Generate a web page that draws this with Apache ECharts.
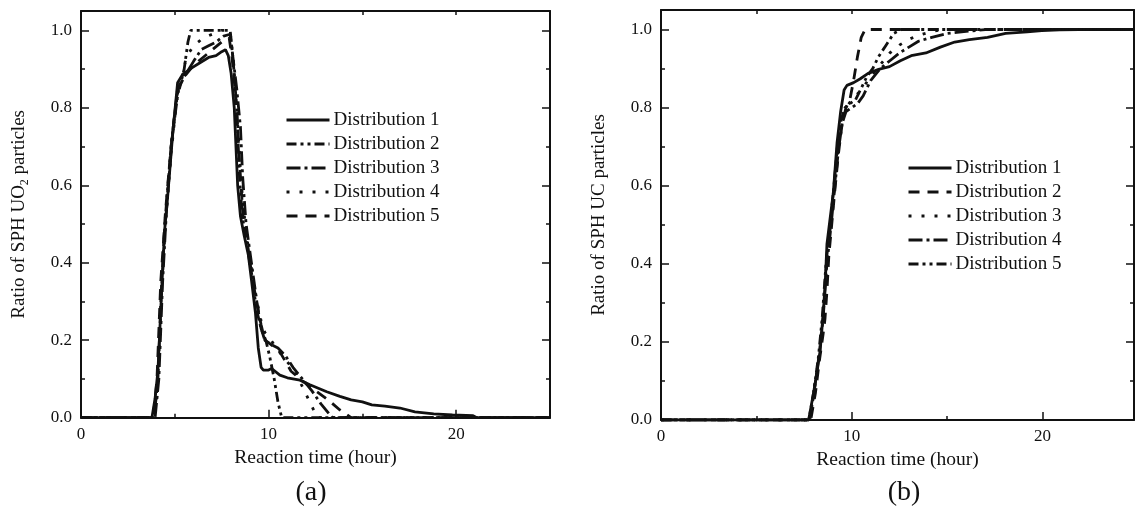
<!DOCTYPE html>
<html>
<head>
<meta charset="utf-8">
<script src="https://cdn.jsdelivr.net/npm/echarts@6/dist/echarts.min.js"></script>
<style>
html,body{margin:0;padding:0;background:#fff;}
#chart{width:1137px;height:507px;}
</style>
</head>
<body>
<div id="chart"></div>
<script>
// ---------- data ----------
const legendNames = ['Distribution 1','Distribution 2','Distribution 3','Distribution 4','Distribution 5'];
const xTitle = 'Reaction time (hour)';
const yTitleA = 'Ratio of SPH UO{sub|2} particles';
const yTitleB = 'Ratio of SPH UC particles';
const panelLabels = ['(a)','(b)'];

// panel (a): SPH UO2 ratio
const a1 = [[0,0],[3.78,0],[3.95,0.05],[4.1,0.12],[4.3,0.33],[4.45,0.48],[4.6,0.56],[4.9,0.74],[5.15,0.865],[5.4,0.885],[5.8,0.9],[6.3,0.915],[6.8,0.93],[7.2,0.935],[7.5,0.945],[7.7,0.95],[7.85,0.935],[8.0,0.89],[8.17,0.8],[8.35,0.6],[8.5,0.52],[8.7,0.47],[8.92,0.42],[9.1,0.35],[9.3,0.27],[9.45,0.18],[9.6,0.13],[9.72,0.123],[10.0,0.123],[10.16,0.127],[10.6,0.11],[11.0,0.103],[11.67,0.097],[12.2,0.085],[13.1,0.067],[13.8,0.055],[14.4,0.046],[15.0,0.041],[15.5,0.033],[16.2,0.03],[17.0,0.025],[17.8,0.015],[18.8,0.01],[19.8,0.007],[20.9,0.005],[21.1,0],[25,0]];
const a2 = [[0,0],[3.9,0],[4.1,0.1],[4.3,0.35],[4.5,0.52],[4.8,0.7],[5.1,0.83],[5.3,0.86],[5.5,0.9],[5.7,0.97],[5.85,1.0],[7.95,1.0],[8.1,0.93],[8.3,0.8],[8.45,0.62],[8.6,0.52],[8.8,0.46],[9.0,0.4],[9.2,0.33],[9.4,0.27],[9.6,0.23],[9.85,0.2],[10.05,0.16],[10.3,0.1],[10.5,0.04],[10.7,0],[25,0]];
const a3 = [[0,0],[3.95,0],[4.15,0.1],[4.35,0.35],[4.55,0.53],[4.85,0.72],[5.2,0.85],[5.5,0.88],[6.0,0.92],[6.4,0.95],[6.8,0.96],[7.2,0.97],[7.6,0.985],[7.95,0.99],[8.1,0.93],[8.3,0.85],[8.5,0.75],[8.62,0.62],[8.8,0.5],[9.0,0.43],[9.2,0.36],[9.4,0.29],[9.6,0.23],[9.8,0.2],[10.1,0.19],[10.5,0.18],[10.9,0.16],[11.3,0.13],[11.8,0.1],[12.3,0.07],[12.8,0.035],[13.4,0],[25,0]];
const a4 = [[0,0],[3.9,0],[4.1,0.1],[4.3,0.33],[4.5,0.5],[4.8,0.68],[5.1,0.82],[5.4,0.88],[5.6,0.93],[6.0,0.96],[6.5,0.98],[7.0,0.99],[7.5,1.0],[7.95,1.0],[8.15,0.9],[8.35,0.76],[8.55,0.6],[8.75,0.5],[9.0,0.41],[9.3,0.32],[9.6,0.25],[9.8,0.22],[10.0,0.21],[10.4,0.18],[10.9,0.15],[11.4,0.12],[11.9,0.07],[12.3,0.03],[12.6,0],[25,0]];
const a5 = [[0,0],[3.85,0],[4.05,0.1],[4.25,0.35],[4.5,0.53],[4.8,0.7],[5.15,0.85],[5.5,0.88],[6.0,0.91],[6.5,0.93],[7.0,0.95],[7.5,0.97],[7.9,0.98],[8.05,0.93],[8.25,0.83],[8.45,0.66],[8.65,0.51],[8.9,0.44],[9.1,0.37],[9.35,0.3],[9.6,0.24],[9.8,0.2],[10.1,0.19],[10.6,0.17],[11.2,0.12],[11.8,0.095],[12.5,0.07],[13.2,0.045],[13.8,0.02],[14.4,0],[25,0]];

// panel (b): SPH UC ratio
const b1 = [[0,0],[7.74,0],[8.0,0.07],[8.2,0.13],[8.35,0.18],[8.5,0.27],[8.61,0.35],[8.7,0.45],[8.85,0.51],[9.03,0.58],[9.23,0.71],[9.42,0.79],[9.6,0.845],[9.75,0.857],[10.1,0.864],[10.45,0.874],[10.84,0.887],[11.41,0.898],[11.98,0.905],[12.55,0.92],[13.12,0.933],[13.89,0.94],[14.65,0.955],[15.4,0.968],[16.17,0.974],[17.12,0.98],[18.07,0.99],[19.2,0.994],[19.97,0.997],[20.9,0.999],[21.9,1.0],[24.8,1.0]];
const b2 = [[0,0],[7.85,0],[8.1,0.07],[8.3,0.15],[8.5,0.22],[8.6,0.26],[8.7,0.33],[8.8,0.42],[8.95,0.5],[9.1,0.58],[9.3,0.68],[9.5,0.76],[9.7,0.8],[9.9,0.82],[10.1,0.87],[10.3,0.93],[10.5,0.98],[10.7,1.0],[24.8,1.0]];
const b3 = [[0,0],[7.8,0],[8.05,0.08],[8.3,0.17],[8.5,0.27],[8.7,0.42],[8.9,0.5],[9.1,0.6],[9.3,0.7],[9.5,0.77],[9.7,0.8],[10.0,0.82],[10.5,0.845],[11.0,0.88],[11.5,0.91],[12.0,0.94],[12.5,0.96],[13.0,0.975],[13.5,0.985],[14.2,0.995],[14.8,1.0],[24.8,1.0]];
const b4 = [[0,0],[7.8,0],[8.05,0.08],[8.3,0.17],[8.5,0.26],[8.7,0.4],[8.9,0.49],[9.1,0.59],[9.3,0.69],[9.5,0.76],[9.7,0.79],[10.0,0.8],[10.3,0.81],[10.6,0.83],[11.0,0.87],[11.5,0.9],[12.0,0.92],[12.5,0.94],[13.0,0.955],[13.5,0.97],[14.2,0.98],[15.0,0.99],[16.0,0.995],[17.0,1.0],[24.8,1.0]];
const b5 = [[0,0],[7.75,0],[8.0,0.07],[8.25,0.16],[8.45,0.26],[8.65,0.4],[8.85,0.49],[9.05,0.59],[9.25,0.7],[9.45,0.77],[9.65,0.8],[9.9,0.81],[10.2,0.82],[10.5,0.85],[10.8,0.88],[11.1,0.9],[11.4,0.93],[11.8,0.96],[12.2,0.99],[12.6,1.0],[24.8,1.0]];

const xMaxA = 25, xMaxB = 24.8, yMax = 1.05;

// ---------- styles ----------
const FONT = '"Liberation Serif", "Times New Roman", serif';
const INK = '#111';
const DASH = {
  solid: 'solid',
  dash: [11, 8],
  dot: [3, 10],
  dashdot: [14, 4, 3, 4],
  dashdotdot: [10, 4, 3, 4, 3, 4]
};
const stylesA = [DASH.solid, DASH.dashdotdot, DASH.dashdot, DASH.dot, DASH.dash];
const stylesB = [DASH.solid, DASH.dash, DASH.dot, DASH.dashdot, DASH.dashdotdot];
const dataA = [a1, a2, a3, a4, a5];
const dataB = [b1, b2, b3, b4, b5];

const chart = echarts.init(document.getElementById('chart'), null, {renderer: 'canvas'});

function xAxes(grid, max) {
  return [{
    type: 'value', gridIndex: grid, position: 'bottom', min: 0, max: max, interval: 10,
    name: xTitle, nameLocation: 'middle', nameGap: 27,
    nameTextStyle: {fontFamily: FONT, fontSize: 19.5, color: INK},
    axisLine: {show: true, onZero: false, lineStyle: {color: INK, width: 2}},
    axisTick: {show: true, inside: true, length: 8, lineStyle: {color: INK, width: 1.5}},
    minorTick: {show: true, splitNumber: 2, length: 4, lineStyle: {color: INK, width: 1.5}},
    axisLabel: {fontFamily: FONT, fontSize: 17, color: INK, margin: 8,
      formatter: v => (Math.abs(v % 10) < 1e-9 ? String(v) : '')},
    splitLine: {show: false}, minorSplitLine: {show: false}
  }, {
    type: 'value', gridIndex: grid, position: 'top', min: 0, max: max, interval: 5,
    axisLine: {show: true, onZero: false, lineStyle: {color: INK, width: 2}},
    axisTick: {show: true, inside: true, length: 4, lineStyle: {color: INK, width: 1.5}},
    axisLabel: {show: false}, splitLine: {show: false}
  }];
}
function yAxes(grid, name) {
  return [{
    type: 'value', gridIndex: grid, position: 'left', min: 0, max: yMax, interval: 0.2,
    name: name, nameLocation: 'middle', nameGap: 50,
    nameTextStyle: {fontFamily: FONT, fontSize: 19, color: INK, lineHeight: 24,
      rich: {sub: {fontFamily: FONT, fontSize: 12, lineHeight: 12, verticalAlign: 'bottom', color: INK}}},
    axisLine: {show: true, onZero: false, lineStyle: {color: INK, width: 2}},
    axisTick: {show: true, inside: true, length: 8, lineStyle: {color: INK, width: 1.5}},
    minorTick: {show: true, splitNumber: 2, length: 4, lineStyle: {color: INK, width: 1.5}},
    axisLabel: {fontFamily: FONT, fontSize: 17, color: INK, margin: 9,
      formatter: v => {
        const k = Math.round(v * 5);
        return (Math.abs(v * 5 - k) < 1e-6 && v <= 1.0001) ? v.toFixed(1) : '';
      }},
    splitLine: {show: false}, minorSplitLine: {show: false}
  }, {
    type: 'value', gridIndex: grid, position: 'right', min: 0, max: yMax, interval: 0.2,
    axisLine: {show: true, onZero: false, lineStyle: {color: INK, width: 2}},
    axisTick: {show: true, inside: true, length: 8, lineStyle: {color: INK, width: 1.5}},
    minorTick: {show: true, splitNumber: 2, length: 4, lineStyle: {color: INK, width: 1.5}},
    axisLabel: {show: false}, splitLine: {show: false}, minorSplitLine: {show: false}
  }];
}

const series = [];
legendNames.forEach((n, i) => {
  series.push({
    name: 'a:' + n, type: 'line', xAxisIndex: 0, yAxisIndex: 0,
    data: dataA[i], showSymbol: false, symbol: 'none', smooth: false,
    lineStyle: {color: INK, width: 2.8, type: stylesA[i]}, itemStyle: {color: INK},
    animation: false, silent: true, z: 5
  });
});
legendNames.forEach((n, i) => {
  series.push({
    name: 'b:' + n, type: 'line', xAxisIndex: 2, yAxisIndex: 2,
    data: dataB[i], showSymbol: false, symbol: 'none', smooth: false,
    lineStyle: {color: INK, width: 2.8, type: stylesB[i]}, itemStyle: {color: INK},
    animation: false, silent: true, z: 5
  });
});

function legend(prefix, left, top) {
  return {
    orient: 'vertical', left: left, top: top,
    data: legendNames.map(n => prefix + n),
    formatter: s => s.slice(2),
    itemWidth: 43, itemHeight: 20, itemGap: 4, padding: 0,
    selectedMode: false,
    itemStyle: {color: 'rgba(0,0,0,0)', borderWidth: 0, opacity: 0},
    lineStyle: {width: 3},
    textStyle: {fontFamily: FONT, fontSize: 19, color: INK, lineHeight: 20, padding: [0, 0, 0, -1]}
  };
}

const option = {
  backgroundColor: '#fff',
  animation: false,
  grid: [
    {left: 81, top: 11, width: 469, height: 406.7, containLabel: false},
    {left: 661, top: 10, width: 476, height: 410, containLabel: false}
  ],
  xAxis: [...xAxes(0, xMaxA), ...xAxes(1, xMaxB)],
  yAxis: [...yAxes(0, yTitleA), ...yAxes(1, yTitleB)],
  legend: [legend('a:', 285, 110), legend('b:', 907, 158)],
  graphic: [
    {type: 'text', x: 311, y: 493, style: {text: panelLabels[0], fontFamily: FONT, fontSize: 28, fill: INK, textAlign: 'center', textVerticalAlign: 'middle'}},
    {type: 'text', x: 904, y: 493, style: {text: panelLabels[1], fontFamily: FONT, fontSize: 28, fill: INK, textAlign: 'center', textVerticalAlign: 'middle'}}
  ],
  series: series
};
chart.setOption(option);
</script>
</body>
</html>
